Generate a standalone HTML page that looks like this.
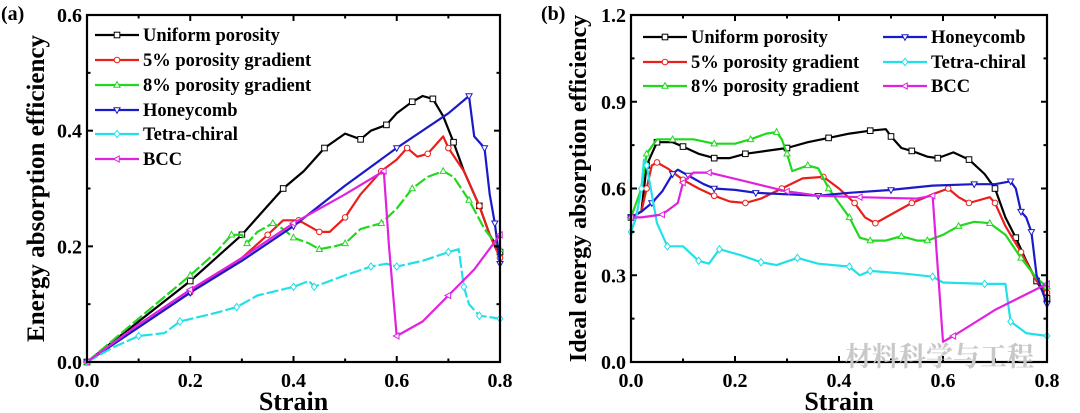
<!DOCTYPE html>
<html><head><meta charset="utf-8"><style>
html,body{margin:0;padding:0;background:#fff;width:1080px;height:413px;overflow:hidden}
svg text{font-family:"Liberation Serif","Noto Serif CJK SC",serif;font-weight:bold}
</style></head><body>
<svg id="chart" width="1080" height="413" viewBox="0 0 1080 413" xmlns="http://www.w3.org/2000/svg"></svg>
<script>
// ===== Panel (a) data =====
const seriesNames = ["Uniform porosity","5% porosity gradient","8% porosity gradient","Honeycomb","Tetra-chiral","BCC"];
const aUniformX=[0,0.1,0.2,0.25,0.3,0.34,0.38,0.42,0.46,0.5,0.53,0.55,0.58,0.6,0.63,0.65,0.67,0.69,0.71,0.73,0.76,0.78,0.8];
const aUniformY=[0,0.07,0.14,0.18,0.22,0.26,0.3,0.33,0.37,0.395,0.385,0.4,0.41,0.43,0.45,0.46,0.455,0.425,0.38,0.33,0.27,0.22,0.19];
const a5X=[0,0.1,0.2,0.3,0.35,0.38,0.41,0.43,0.45,0.47,0.5,0.53,0.57,0.6,0.62,0.64,0.66,0.69,0.7,0.73,0.76,0.78,0.8];
const a5Y=[0,0.06,0.12,0.18,0.22,0.245,0.245,0.235,0.225,0.225,0.25,0.29,0.33,0.35,0.37,0.355,0.36,0.39,0.37,0.33,0.27,0.22,0.18];
const a8X=[0,0.1,0.2,0.25,0.28,0.3,0.31,0.33,0.36,0.38,0.4,0.43,0.45,0.48,0.5,0.53,0.57,0.6,0.63,0.66,0.69,0.71,0.74,0.77,0.8];
const a8Y=[0,0.075,0.15,0.19,0.22,0.22,0.205,0.225,0.24,0.23,0.215,0.205,0.195,0.2,0.205,0.23,0.24,0.265,0.3,0.32,0.33,0.32,0.28,0.23,0.195];
const aHoneyX=[0,0.1,0.2,0.3,0.4,0.5,0.6,0.7,0.74,0.75,0.77,0.78,0.79,0.8];
const aHoneyY=[0,0.06,0.12,0.175,0.235,0.305,0.37,0.43,0.46,0.39,0.37,0.29,0.24,0.17];
const aTetraX=[0,0.05,0.1,0.15,0.18,0.25,0.29,0.33,0.4,0.43,0.44,0.5,0.55,0.58,0.6,0.65,0.7,0.72,0.73,0.74,0.76,0.8];
const aTetraY=[0,0.025,0.045,0.05,0.07,0.085,0.095,0.115,0.13,0.14,0.13,0.15,0.165,0.17,0.165,0.175,0.19,0.195,0.13,0.1,0.08,0.075];
const aBccX=[0,0.1,0.2,0.3,0.4,0.5,0.575,0.585,0.6,0.65,0.7,0.75,0.8];
const aBccY=[0,0.065,0.125,0.18,0.24,0.29,0.33,0.2,0.045,0.07,0.115,0.16,0.22];
// ===== Panel (b) data =====
const bUniformX=[0,0.02,0.03,0.04,0.05,0.08,0.1,0.13,0.16,0.19,0.22,0.26,0.3,0.34,0.38,0.42,0.46,0.49,0.5,0.52,0.54,0.57,0.59,0.62,0.65,0.68,0.7,0.72,0.74,0.76,0.78,0.8];
const bUniformY=[0.5,0.52,0.68,0.72,0.76,0.76,0.745,0.72,0.705,0.705,0.72,0.73,0.74,0.76,0.775,0.79,0.8,0.805,0.78,0.74,0.73,0.71,0.705,0.725,0.7,0.65,0.6,0.5,0.43,0.35,0.28,0.22];
const b5X=[0,0.02,0.03,0.04,0.05,0.07,0.1,0.13,0.16,0.19,0.22,0.25,0.29,0.33,0.37,0.4,0.43,0.45,0.47,0.5,0.54,0.58,0.61,0.63,0.65,0.69,0.7,0.72,0.75,0.78,0.8];
const b5Y=[0.5,0.52,0.6,0.68,0.69,0.67,0.63,0.6,0.575,0.555,0.55,0.565,0.6,0.635,0.64,0.6,0.55,0.5,0.48,0.51,0.55,0.58,0.6,0.57,0.55,0.57,0.55,0.47,0.38,0.28,0.24];
const b8X=[0,0.02,0.03,0.05,0.08,0.12,0.16,0.2,0.23,0.26,0.28,0.29,0.3,0.31,0.34,0.36,0.38,0.4,0.42,0.44,0.46,0.49,0.52,0.55,0.57,0.6,0.63,0.66,0.69,0.72,0.75,0.78,0.8];
const b8Y=[0.5,0.6,0.72,0.77,0.77,0.77,0.755,0.755,0.77,0.79,0.795,0.77,0.72,0.66,0.68,0.67,0.6,0.55,0.5,0.43,0.42,0.42,0.435,0.42,0.42,0.44,0.47,0.485,0.48,0.44,0.36,0.29,0.26];
const bHoneyX=[0,0.02,0.04,0.06,0.08,0.09,0.11,0.14,0.16,0.2,0.24,0.3,0.36,0.42,0.5,0.58,0.66,0.7,0.73,0.74,0.75,0.76,0.77,0.78,0.8];
const bHoneyY=[0.5,0.52,0.55,0.59,0.65,0.665,0.645,0.615,0.6,0.595,0.585,0.58,0.575,0.585,0.595,0.61,0.615,0.615,0.625,0.6,0.52,0.5,0.45,0.3,0.2];
const bTetraX=[0,0.01,0.02,0.025,0.03,0.05,0.07,0.1,0.13,0.15,0.17,0.21,0.25,0.28,0.32,0.36,0.42,0.44,0.46,0.53,0.58,0.6,0.68,0.72,0.73,0.76,0.8];
const bTetraY=[0.45,0.5,0.6,0.7,0.68,0.48,0.4,0.4,0.35,0.34,0.39,0.37,0.345,0.335,0.36,0.34,0.33,0.3,0.315,0.305,0.295,0.275,0.27,0.27,0.14,0.1,0.09];
const bBccX=[0,0.02,0.06,0.09,0.1,0.12,0.15,0.22,0.3,0.36,0.44,0.55,0.58,0.6,0.62,0.7,0.8];
const bBccY=[0.5,0.5,0.51,0.55,0.62,0.655,0.655,0.625,0.59,0.575,0.57,0.565,0.575,0.07,0.09,0.18,0.27];
const xTicks=[0,0.2,0.4,0.6,0.8];
const aYTicks=[0,0.2,0.4,0.6];
const bYTicks=[0,0.3,0.6,0.9,1.2];

const colors=["#000000","#e8201a","#22d81e","#1a1ac8","#22e0e8","#e022e0"];
const markers=["square","circle","tri-up","tri-down","diamond","tri-left"];
const NS="http://www.w3.org/2000/svg";
const svg=document.getElementById('chart');
function mk(tag,attrs,parent){const e=document.createElementNS(NS,tag);for(const k in attrs)e.setAttribute(k,attrs[k]);(parent||svg).appendChild(e);return e;}

function marker(g,type,x,y,c,s){
  let e;
  if(type==="square") e=mk('rect',{x:x-s,y:y-s,width:2*s,height:2*s},g);
  else if(type==="circle") e=mk('circle',{cx:x,cy:y,r:s},g);
  else { let p;
    if(type==="tri-up") p=[[x,y-s*1.2],[x-s*1.1,y+s*0.8],[x+s*1.1,y+s*0.8]];
    else if(type==="tri-down") p=[[x,y+s*1.2],[x-s*1.1,y-s*0.8],[x+s*1.1,y-s*0.8]];
    else if(type==="diamond") p=[[x,y-s*1.3],[x+s,y],[x,y+s*1.3],[x-s,y]];
    else p=[[x-s*1.2,y],[x+s*0.8,y-s*1.1],[x+s*0.8,y+s*1.1]];
    e=mk('polygon',{points:p.map(q=>q.join(',')).join(' ')},g);}
  e.setAttribute('fill','#fff');e.setAttribute('stroke',c);e.setAttribute('stroke-width','1');
  
  
}

function panel(cfg){
  const {L,R,T,B,ymax,yTicks,series,label,ylabel,prefix}=cfg;
  const sx=v=>L+(v/0.8)*(R-L);
  const sy=v=>B-(v/ymax)*(B-T);
  const g=mk('g',{});
  
  
  series.forEach((s,i)=>{
    const sg=mk('g',{},g);
    
    
    const d=s[0].map((x,j)=>(j?'L':'M')+sx(x).toFixed(1)+' '+sy(s[1][j]).toFixed(1)).join(' ');
    const p=mk('path',{d:d,fill:'none',stroke:colors[i],'stroke-width':2.2,'stroke-linejoin':'round'},sg);
    if(prefix==='a'&&(i===2||i===4)) p.setAttribute('stroke-dasharray','12 3');
    
    
    s[0].forEach((x,j)=>{ if(j%2===0||j===s[0].length-1) marker(sg,markers[i],sx(x),sy(s[1][j]),colors[i],2.8);});
  });
  const fr=mk('rect',{x:L,y:T,width:R-L,height:B-T,fill:'none',stroke:'#000','stroke-width':2.2},g);
  
  
  for(let k=0;k<=8;k++){const v=k*0.1,x=sx(v),len=(k%2===0)?6:3.5;
    mk('line',{x1:x,y1:B,x2:x,y2:B-len,stroke:'#000','stroke-width':2},g);
    mk('line',{x1:x,y1:T,x2:x,y2:T+len,stroke:'#000','stroke-width':2},g);}
  xTicks.forEach(v=>{const t=mk('text',{x:sx(v),y:B+25,'text-anchor':'middle','font-size':20},g);t.textContent=v.toFixed(1);
    
    });
  const step=yTicks[1]-yTicks[0];
  for(let v=0;v<=ymax+1e-9;v+=step/2){const y=sy(v),maj=Math.abs((v/step)-Math.round(v/step))<1e-6,len=maj?6:3.5;
    mk('line',{x1:L,y1:y,x2:L+len,y2:y,stroke:'#000','stroke-width':2},g);
    mk('line',{x1:R,y1:y,x2:R-len,y2:y,stroke:'#000','stroke-width':2},g);}
  yTicks.forEach(v=>{const t=mk('text',{x:L-5,y:sy(v)+7,'text-anchor':'end','font-size':20},g);t.textContent=v.toFixed(1);
    
    });
  const xt=mk('text',{x:(L+R)/2,y:B+48,'text-anchor':'middle','font-size':26},g);xt.textContent='Strain';
  
  
  const yt=mk('text',{x:0,y:0,'text-anchor':'middle','font-size':cfg.yfs,transform:`translate(${cfg.ylx},${(T+B)/2}) rotate(-90)`},g);yt.textContent=ylabel;
  
  
  const pl=mk('text',{x:cfg.plx,y:20,'font-size':20},g);pl.textContent=label;
  
  
  cfg.legendPos.forEach((pos,i)=>{
    const lg=mk('g',{},g);
    
    
    const [lx,ly]=pos;
    mk('line',{x1:lx,y1:ly,x2:lx+44,y2:ly,stroke:colors[i],'stroke-width':2.2},lg);
    marker(lg,markers[i],lx+22,ly,colors[i],2.8);
    const t=mk('text',{x:lx+48,y:ly+6,'font-size':18.5},lg);t.textContent=seriesNames[i];
  });
}

panel({L:87,R:500,T:15,B:362,ymax:0.6,yTicks:aYTicks,prefix:'a',label:'(a)',ylabel:'Energy absorption efficiency',ylx:44,plx:1,yfs:25,
  series:[[aUniformX,aUniformY],[a5X,a5Y],[a8X,a8Y],[aHoneyX,aHoneyY],[aTetraX,aTetraY],[aBccX,aBccY]],
  legendPos:[[95,35],[95,60],[95,85],[95,110],[95,134],[95,159]]});
panel({L:631,R:1047,T:15,B:362,ymax:1.2,yTicks:bYTicks,prefix:'b',label:'(b)',ylabel:'Ideal energy absorption efficiency',ylx:586,plx:541,yfs:24,
  series:[[bUniformX,bUniformY],[b5X,b5Y],[b8X,b8Y],[bHoneyX,bHoneyY],[bTetraX,bTetraY],[bBccX,bBccY]],
  legendPos:[[643,37],[643,62],[643,86],[883,37],[883,62],[883,86]]});
const wm=mk('text',{x:845,y:366,'font-size':27,fill:'#c8c8c8','font-weight':'normal'});
wm.textContent='材料科学与工程';


</script>
</body></html>
